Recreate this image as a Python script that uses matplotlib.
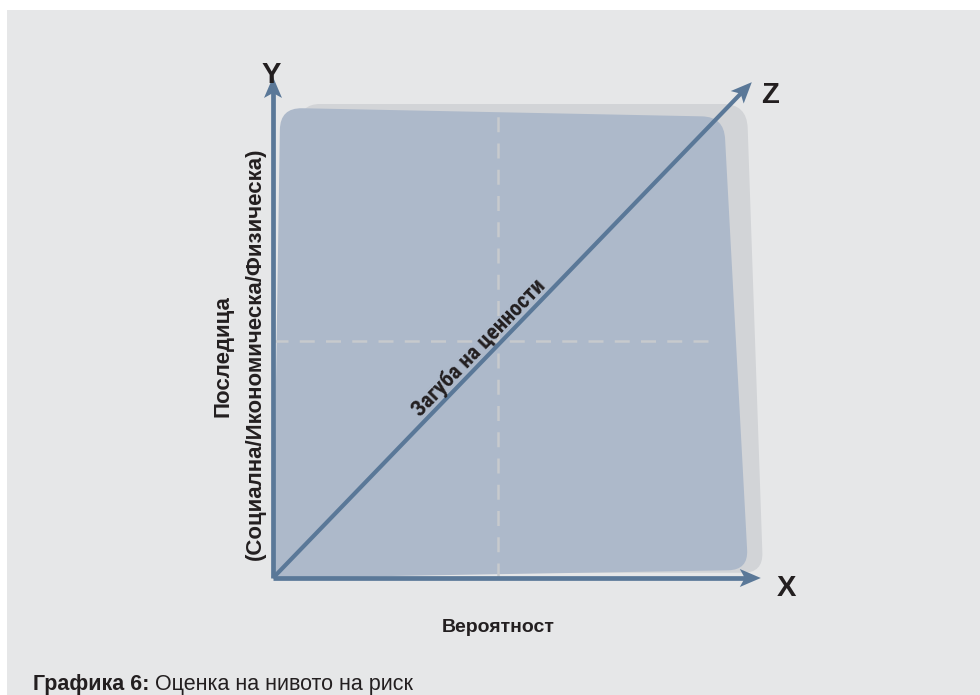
import numpy as np
import matplotlib
matplotlib.use('Agg')
import matplotlib.pyplot as plt
from matplotlib import font_manager
from matplotlib.path import Path
from matplotlib.patches import PathPatch, Polygon, Rectangle

plt.rcParams['font.family'] = ['Liberation Sans', 'DejaVu Sans']

# diagram geometry in axis units: origin (0, 0), dashed midlines at 0.5
value_area = [(0.0, 0.0), (0.016, 0.992), (1.002, 0.973), (1.056, 0.017)]
value_radius = [0, 22, 22, 20]
shadow_area = [(0.027, 0.011), (0.06, 1.0), (1.053, 1.0), (1.089, 0.011)]
shadow_radius = [20, 20, 24, 20]

axis_names = ['Y', 'X', 'Z']
axis_tips = [(0.0, 1.057), (1.084, 0.0), (1.064, 1.046)]
axis_label_pos = [(-0.004, 1.061), (1.142, -0.021), (1.104, 1.019)]

mid_lines_v = (0.5, 0.0, 0.985)   # x, y from, y to
mid_lines_h = (0.5, 0.0, 0.977)   # y, x from, x to

x_label = 'Вероятност'
y_label_1 = 'Последица'
y_label_2 = '(Социална/Икономическа/Физическа)'
z_label = 'Загуба на ценности'
z_label_at = 0.4476
caption_bold = 'Графика 6:'
caption_rest = ' Оценка на нивото на риск'

panel_c = '#e6e7e8'
value_c = '#adb9ca'
shadow_c = '#d2d4d7'
axis_c = '#5a7898'
dash_c = '#c7cacd'
text_c = '#231f20'

W, H = 980, 695
fig = plt.figure(figsize=(W / 100, H / 100), dpi=100, facecolor='white')
fig.patches.append(Rectangle((7 / W, 0), 1, (H - 10) / H, transform=fig.transFigure,
                             facecolor=panel_c, edgecolor='none', zorder=-5))
ax = fig.add_axes([0, 0, 1, 1])
ax.set_xlim(-273 / 450, (W - 273) / 450)
ax.set_ylim((578 - H) / 474, 578 / 474)
ax.axis('off')
ax.patch.set_alpha(0)


def to_px(p):
    return ax.transData.transform(p)


def rounded(pts, radii):
    P = to_px(np.array(pts))
    n = len(P)
    verts, codes = [], []
    for i in range(n):
        p0, p1, p2 = P[i - 1], P[i], P[(i + 1) % n]
        r = radii[i]
        a = p1 + (p0 - p1) * r / np.linalg.norm(p0 - p1)
        b = p1 + (p2 - p1) * r / np.linalg.norm(p2 - p1)
        verts += [a, p1, b]
        codes += [Path.MOVETO if i == 0 else Path.LINETO, Path.CURVE3, Path.CURVE3]
    verts.append(verts[0])
    codes.append(Path.CLOSEPOLY)
    verts = ax.transData.inverted().transform(np.array(verts))
    return Path(verts, codes)


ax.add_patch(PathPatch(rounded(shadow_area, shadow_radius), facecolor=shadow_c,
                       edgecolor='none', zorder=1))
ax.add_patch(PathPatch(rounded(value_area, value_radius), facecolor=value_c,
                       edgecolor='none', zorder=2))

ax.plot([mid_lines_v[0]] * 2, mid_lines_v[1:], color=dash_c, lw=1.8,
        dashes=(6, 4.5), zorder=3)
ax.plot(mid_lines_h[1:], [mid_lines_h[0]] * 2, color=dash_c, lw=1.8,
        dashes=(6, 4.5), zorder=3)

o = to_px((0, 0))
for name, tip, lp in zip(axis_names, axis_tips, axis_label_pos):
    t = to_px(tip)
    d = (t - o) / np.linalg.norm(t - o)
    nv = np.array([-d[1], d[0]])
    L, hw, notch = 21, 9, 5
    head = [t, t - L * d + hw * nv, t - (L - notch) * d, t - L * d - hw * nv]
    head = ax.transData.inverted().transform(np.array(head))
    end = ax.transData.inverted().transform(t - (L - notch - 1) * d)
    lw = 3.0 if name == 'Z' else 3.4
    ax.plot([0, end[0]], [0, end[1]], color=axis_c, lw=lw,
            solid_capstyle='butt', zorder=4)
    ax.add_patch(Polygon(head, closed=True, facecolor=axis_c, edgecolor='none', zorder=5))
    ax.text(lp[0], lp[1], name, fontsize=21, fontweight='bold', color=text_c,
            ha='center', va='center', zorder=6)

# label along the diagonal, in a narrow face if one is installed
names = {f.name for f in font_manager.fontManager.ttflist}
zfont = dict(family=['DejaVu Sans'], fontstretch='condensed', fontsize=14)
for cand in ['Liberation Sans Narrow', 'Roboto Condensed', 'Open Sans Condensed',
             'Noto Sans Condensed']:
    if cand in names:
        zfont = dict(family=[cand, 'DejaVu Sans'], fontsize=16)
        break
t = to_px(axis_tips[2])
d = (t - o) / np.linalg.norm(t - o)
angle = np.degrees(np.arctan2(d[1], d[0]))
nv = np.array([-d[1], d[0]])
anchor = o + (t - o) * z_label_at + nv * 12
anchor = ax.transData.inverted().transform(anchor)
ax.text(anchor[0], anchor[1], z_label, rotation=angle, rotation_mode='anchor',
        ha='center', va='center', fontweight='bold', color=text_c,
        zorder=6, **zfont)

ax.text(0.5, -0.105, x_label, fontsize=14, fontweight='bold', color=text_c,
        ha='center', va='center')
ax.text(-0.111, 0.468, y_label_1, rotation=90, fontsize=16, fontweight='bold',
        color=text_c, ha='center', va='center')
ax.text(-0.040, 0.473, y_label_2, rotation=90, fontsize=16, fontweight='bold',
        color=text_c, ha='center', va='center')

cap = fig.text(33 / W, (H - 690) / H, caption_bold, fontsize=15.5, fontweight='bold',
               color=text_c, ha='left', va='baseline')
fig.canvas.draw()
bb = cap.get_window_extent()
fig.text(bb.x1 / W, (H - 690) / H, caption_rest, fontsize=15.5, color=text_c,
         ha='left', va='baseline')

fig.savefig('out.png', dpi=100, facecolor='white')
